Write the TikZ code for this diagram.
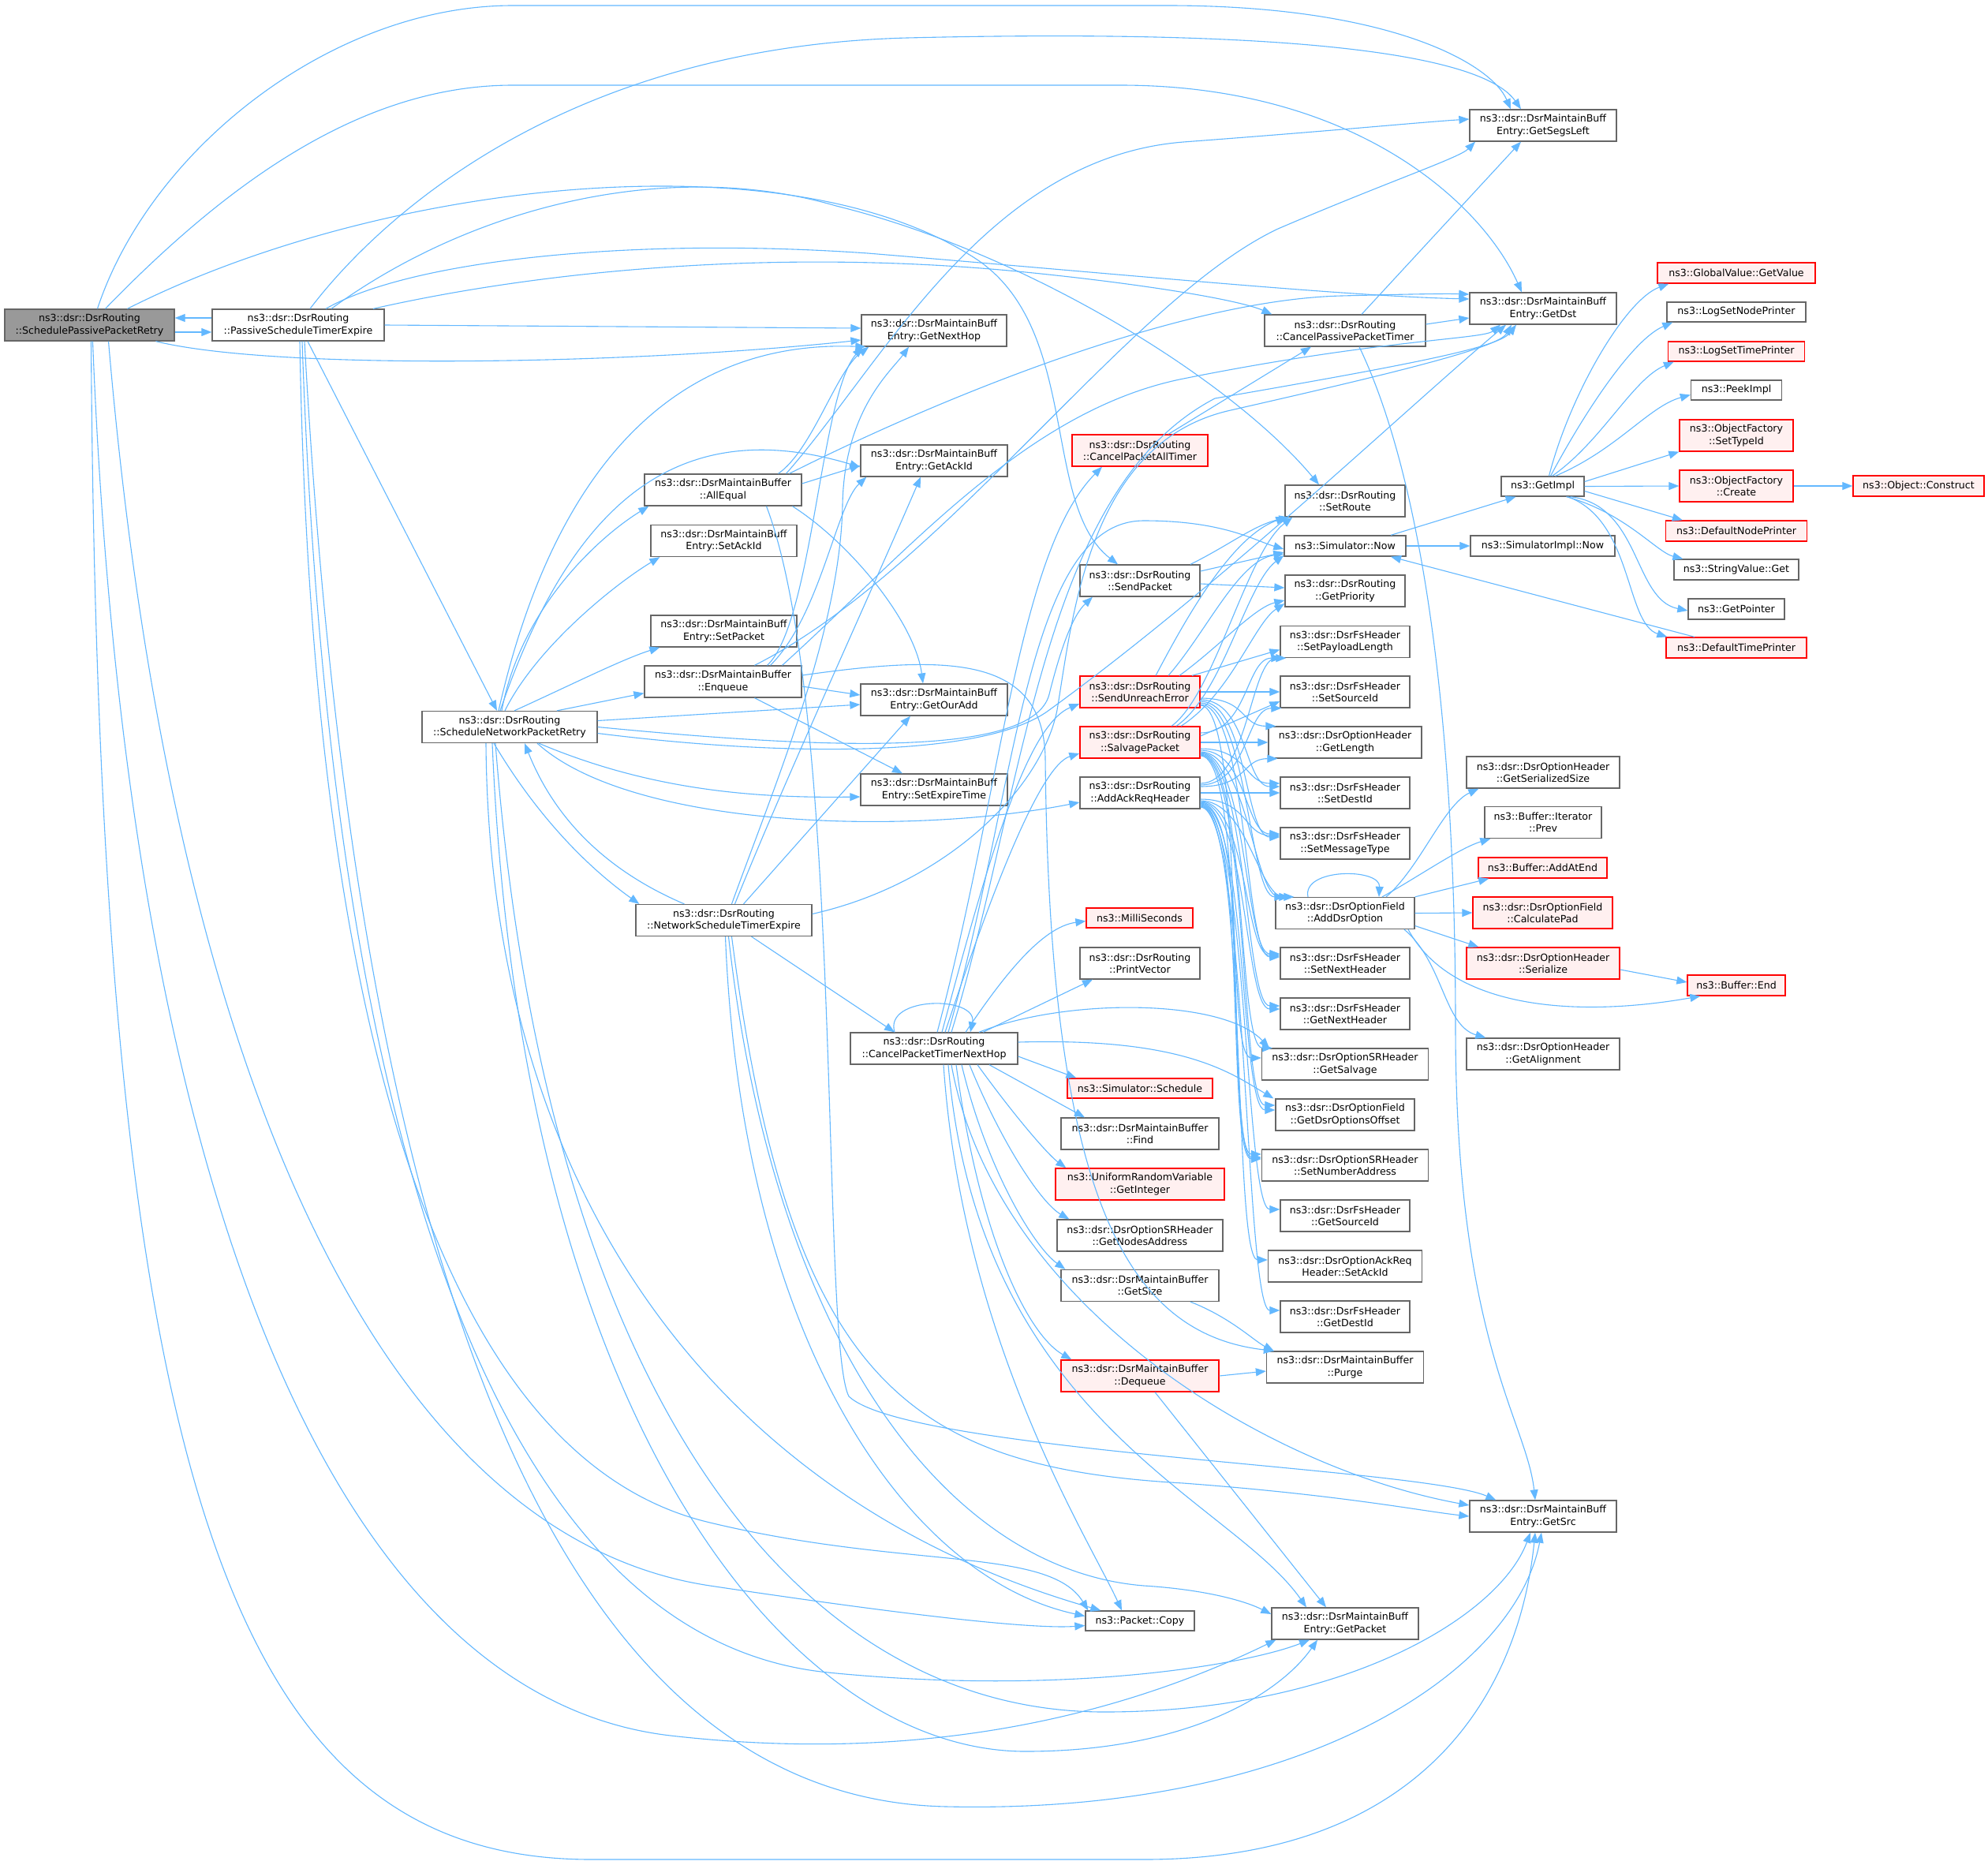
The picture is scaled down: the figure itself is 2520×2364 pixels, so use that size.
\documentclass[tikz,border=0pt]{standalone}
\usepackage{fontspec}
\setmainfont{DejaVu Sans}
\usetikzlibrary{arrows.meta}
\definecolor{edgeblue}{HTML}{63B8FF}
\definecolor{boxgray}{HTML}{666666}
\definecolor{curgray}{HTML}{999999}
\definecolor{redfill}{HTML}{FFF0F0}

\begin{document}
\begin{tikzpicture}[x=1pt,y=-1pt,
  fn/.style={draw=boxgray,line width=1.3pt,fill=white,inner sep=1pt,align=center,
    minimum height=40pt,font=\fontsize{12.6}{15.4}\selectfont},
  fnred/.style={fn,draw=red,fill=redfill},
  fncur/.style={fn,fill=curgray},
  call/.style={draw=edgeblue,line width=1.1pt,-{Triangle[length=13pt,width=10pt]}},
  fan/.style={to path={.. controls +(60,0) and +(-45,0) .. (\tikztotarget)}}]
  \useasboundingbox (0,0) rectangle (2520,2364);
  \fill[white] (0,0) rectangle (2520,2364);

  \node[fncur, minimum width=215pt] (A) at (113.5,412) {ns3::dsr::DsrRouting\\::SchedulePassivePacketRetry};
  \node[fn, minimum width=218pt] (P) at (378,412) {ns3::dsr::DsrRouting\\::PassiveScheduleTimerExpire};
  \node[fn, minimum width=222pt] (N) at (646,921.5) {ns3::dsr::DsrRouting\\::ScheduleNetworkPacketRetry};

  \node[fn, minimum width=199pt] (E) at (916.5,621) {ns3::dsr::DsrMaintainBuffer\\::AllEqual};
  \node[fn, minimum width=185pt] (setack) at (917.5,685.5) {ns3::dsr::DsrMaintainBuff\\Entry::SetAckId};
  \node[fn, minimum width=185pt] (setpkt) at (917.5,800) {ns3::dsr::DsrMaintainBuff\\Entry::SetPacket};
  \node[fn, minimum width=199pt] (Q) at (916.5,864) {ns3::dsr::DsrMaintainBuffer\\::Enqueue};
  \node[fn, minimum width=223pt] (T) at (917.5,1166.5) {ns3::dsr::DsrRouting\\::NetworkScheduleTimerExpire};

  \node[fn, minimum width=184pt] (nexthop) at (1184,419) {ns3::dsr::DsrMaintainBuff\\Entry::GetNextHop};
  \node[fn, minimum width=186pt] (ackid) at (1184,584) {ns3::dsr::DsrMaintainBuff\\Entry::GetAckId};
  \node[fn, minimum width=186pt] (ouradd) at (1184,887) {ns3::dsr::DsrMaintainBuff\\Entry::GetOurAdd};
  \node[fn, minimum width=186pt] (expire) at (1184,1001) {ns3::dsr::DsrMaintainBuff\\Entry::SetExpireTime};
  \node[fn, minimum width=212pt] (X) at (1184,1329) {ns3::dsr::DsrRouting\\::CancelPacketTimerNextHop};

  \node[fnred, minimum width=172pt] (allt) at (1445,571) {ns3::dsr::DsrRouting\\::CancelPacketAllTimer};
  \node[fn, minimum width=152pt] (send) at (1445,736) {ns3::dsr::DsrRouting\\::SendPacket};
  \node[fnred, minimum width=152pt] (unreach) at (1445,877) {ns3::dsr::DsrRouting\\::SendUnreachError};
  \node[fnred, minimum width=152pt] (salvage) at (1445,941) {ns3::dsr::DsrRouting\\::SalvagePacket};
  \node[fn, minimum width=152pt] (ackreq) at (1445,1005) {ns3::dsr::DsrRouting\\::AddAckReqHeader};
  \node[fnred, minimum width=135pt, minimum height=25pt] (milli) at (1444.5,1163.5) {ns3::MilliSeconds};
  \node[fn, minimum width=152pt] (printv) at (1445,1221) {ns3::dsr::DsrRouting\\::PrintVector};
  \node[fnred, minimum width=184pt, minimum height=25pt] (sched) at (1445,1379.5) {ns3::Simulator::Schedule};
  \node[fn, minimum width=200pt] (find) at (1445,1437) {ns3::dsr::DsrMaintainBuffer\\::Find};
  \node[fnred, minimum width=214pt] (getint) at (1445,1501) {ns3::UniformRandomVariable\\::GetInteger};
  \node[fn, minimum width=210pt] (nodesaddr) at (1445,1566) {ns3::dsr::DsrOptionSRHeader\\::GetNodesAddress};
  \node[fn, minimum width=200pt] (getsize) at (1445,1629.5) {ns3::dsr::DsrMaintainBuffer\\::GetSize};
  \node[fnred, minimum width=200pt] (dequeue) at (1445,1744) {ns3::dsr::DsrMaintainBuffer\\::Dequeue};
  \node[fn, minimum width=138pt, minimum height=25pt] (copy) at (1445,2054.5) {ns3::Packet::Copy};

  \node[fn, minimum width=204pt] (cpass) at (1705,419) {ns3::dsr::DsrRouting\\::CancelPassivePacketTimer};
  \node[fn, minimum width=152pt] (setroute) at (1705,635) {ns3::dsr::DsrRouting\\::SetRoute};
  \node[fn, minimum width=154pt, minimum height=26pt] (simnow) at (1705,692) {ns3::Simulator::Now};
  \node[fn, minimum width=152pt] (prio) at (1705,749) {ns3::dsr::DsrRouting\\::GetPriority};
  \node[fn, minimum width=164pt] (paylen) at (1705,813.5) {ns3::dsr::DsrFsHeader\\::SetPayloadLength};
  \node[fn, minimum width=164pt] (setsrcid) at (1705,877) {ns3::dsr::DsrFsHeader\\::SetSourceId};
  \node[fn, minimum width=194pt] (getlen) at (1705,941) {ns3::dsr::DsrOptionHeader\\::GetLength};
  \node[fn, minimum width=164pt] (setdstid) at (1705,1005) {ns3::dsr::DsrFsHeader\\::SetDestId};
  \node[fn, minimum width=164pt] (msgtype) at (1705,1069) {ns3::dsr::DsrFsHeader\\::SetMessageType};
  \node[fn, minimum width=176pt] (addopt) at (1705,1157.5) {ns3::dsr::DsrOptionField\\::AddDsrOption};
  \node[fn, minimum width=164pt] (setnext) at (1705,1221) {ns3::dsr::DsrFsHeader\\::SetNextHeader};
  \node[fn, minimum width=164pt] (getnext) at (1705,1285) {ns3::dsr::DsrFsHeader\\::GetNextHeader};
  \node[fn, minimum width=211pt] (getsalv) at (1705,1349) {ns3::dsr::DsrOptionSRHeader\\::GetSalvage};
  \node[fn, minimum width=176pt] (optoff) at (1705,1413) {ns3::dsr::DsrOptionField\\::GetDsrOptionsOffset};
  \node[fn, minimum width=211pt] (numaddr) at (1705,1477) {ns3::dsr::DsrOptionSRHeader\\::SetNumberAddress};
  \node[fn, minimum width=164pt] (getsrcid) at (1705,1541) {ns3::dsr::DsrFsHeader\\::GetSourceId};
  \node[fn, minimum width=195pt] (reqack) at (1705,1605) {ns3::dsr::DsrOptionAckReq\\Header::SetAckId};
  \node[fn, minimum width=164pt] (getdstid) at (1705,1669) {ns3::dsr::DsrFsHeader\\::GetDestId};
  \node[fn, minimum width=199pt] (purge) at (1705,1733) {ns3::dsr::DsrMaintainBuffer\\::Purge};
  \node[fn, minimum width=186pt] (getpkt) at (1705,2058) {ns3::dsr::DsrMaintainBuff\\Entry::GetPacket};

  \node[fn, minimum width=186pt] (segs) at (1956,159) {ns3::dsr::DsrMaintainBuff\\Entry::GetSegsLeft};
  \node[fn, minimum width=186pt] (dst) at (1956,391) {ns3::dsr::DsrMaintainBuff\\Entry::GetDst};
  \node[fn, minimum width=105pt, minimum height=25pt] (impl) at (1955.5,616.5) {ns3::GetImpl};
  \node[fn, minimum width=183pt, minimum height=26pt] (implnow) at (1955.5,692) {ns3::SimulatorImpl::Now};
  \node[fn, minimum width=194pt] (sersize) at (1956,979) {ns3::dsr::DsrOptionHeader\\::GetSerializedSize};
  \node[fn, minimum width=148pt] (prev) at (1956,1042.5) {ns3::Buffer::Iterator\\::Prev};
  \node[fnred, minimum width=163pt, minimum height=26pt] (atend) at (1955.5,1100) {ns3::Buffer::AddAtEnd};
  \node[fnred, minimum width=177pt] (calcpad) at (1955.5,1157) {ns3::dsr::DsrOptionField\\::CalculatePad};
  \node[fnred, minimum width=194pt] (serial) at (1956,1221) {ns3::dsr::DsrOptionHeader\\::Serialize};
  \node[fn, minimum width=194pt] (align) at (1956,1336) {ns3::dsr::DsrOptionHeader\\::GetAlignment};
  \node[fn, minimum width=186pt] (getsrc) at (1956,1922) {ns3::dsr::DsrMaintainBuff\\Entry::GetSrc};

  \node[fnred, minimum width=200pt, minimum height=26pt] (gvalue) at (2201,346) {ns3::GlobalValue::GetValue};
  \node[fn, minimum width=176pt, minimum height=25pt] (nodeprt) at (2201,395.5) {ns3::LogSetNodePrinter};
  \node[fnred, minimum width=173pt, minimum height=25pt] (timeprt) at (2201,445.5) {ns3::LogSetTimePrinter};
  \node[fn, minimum width=115pt, minimum height=25pt] (peek) at (2201,494.5) {ns3::PeekImpl};
  \node[fnred, minimum width=144pt] (typeid) at (2201,552) {ns3::ObjectFactory\\::SetTypeId};
  \node[fnred, minimum width=144pt] (create) at (2201,616) {ns3::ObjectFactory\\::Create};
  \node[fnred, minimum width=179pt, minimum height=26pt] (defnode) at (2201,673) {ns3::DefaultNodePrinter};
  \node[fn, minimum width=158pt, minimum height=26pt] (strget) at (2201,722) {ns3::StringValue::Get};
  \node[fn, minimum width=122pt, minimum height=26pt] (getptr) at (2201,772) {ns3::GetPointer};
  \node[fnred, minimum width=178pt, minimum height=26pt] (deftime) at (2201,821) {ns3::DefaultTimePrinter};
  \node[fnred, minimum width=124pt, minimum height=26pt] (bufend) at (2201,1249) {ns3::Buffer::End};
  \node[fnred, minimum width=166pt, minimum height=26pt] (construct) at (2432,616) {ns3::Object::Construct};

  \draw[call] ([yshift=-9pt]A.east) -- ([yshift=-9pt]P.west);
  \draw[call] ([yshift=9pt]P.west) -- ([yshift=9pt]A.east);
  \draw[call] ([xshift=10pt]A.north) .. controls (190,190) and (420,7) .. (650,7) -- (1480,7) .. controls (1760,7) and (1890,80) .. ([xshift=-41pt]segs.north);
  \draw[call] ([xshift=20pt]A.north) .. controls (290,230) and (460,108) .. (650,108) -- (1420,108) .. controls (1720,108) and (1880,260) .. ([xshift=-27pt]dst.north);
  \draw[call] ([xshift=48pt]A.north) .. controls (480,230) and (1000,170) .. (1240,330) .. controls (1370,420) and (1320,640) .. ([xshift=-28pt]send.north);
  \draw[call] ([xshift=84pt]A.south) .. controls (350,470) and (800,462) .. ([yshift=-12pt]nexthop.west);
  \draw[call] ([xshift=2pt]A.south) .. controls (125,1900) and (300,2357) .. (750,2357) -- (1450,2357) .. controls (1800,2357) and (1925,2150) .. ([xshift=-10pt]getsrc.south);
  \draw[call] ([xshift=4pt]A.south) .. controls (160,1500) and (420,2150) .. (850,2200) .. controls (1200,2240) and (1450,2160) .. ([xshift=6pt]getpkt.south west);
  \draw[call] ([xshift=24pt]A.south) .. controls (220,1400) and (500,1950) .. (900,2010) .. controls (1100,2040) and (1300,2066) .. ([yshift=-6pt]copy.west);

  \draw[call] (P.east) -- ([yshift=3pt]nexthop.west);
  \draw[call] ([xshift=15pt]P.north) .. controls (470,290) and (700,60) .. (1150,48) .. controls (1650,36) and (1880,70) .. ([xshift=-28pt]segs.north);
  \draw[call] ([xshift=35pt]P.north) .. controls (520,330) and (800,300) .. (1100,321) .. controls (1450,350) and (1700,375) .. ([yshift=12pt]dst.west);
  \draw[call] ([xshift=42pt]P.north) .. controls (600,260) and (850,200) .. (1060,261) .. controls (1300,320) and (1560,480) .. ([xshift=-33pt]setroute.north);
  \draw[call] ([xshift=95pt]P.north) .. controls (700,340) and (1000,315) .. (1300,345) .. controls (1450,360) and (1570,380) .. ([xshift=10pt]cpass.north west);
  \draw[call] ([xshift=12pt]P.south) -- ([xshift=-16pt]N.north);
  \draw[call] ([xshift=2pt]P.south) .. controls (395,1300) and (560,1850) .. (900,1930) .. controls (1150,1990) and (1330,1960) .. ([xshift=4pt]copy.north west);
  \draw[call] ([xshift=5pt]P.south) .. controls (420,1500) and (650,2080) .. (1050,2120) .. controls (1350,2150) and (1580,2110) .. ([xshift=-45pt]getpkt.south);
  \draw[call] ([xshift=8pt]P.south) .. controls (450,1600) and (700,2280) .. (1200,2290) .. controls (1650,2300) and (1920,2120) .. ([xshift=-2pt]getsrc.south);

  \draw[call] ([xshift=-10pt]N.north) .. controls (660,770) and (760,680) .. ([xshift=6pt]E.south west);
  \draw[call] ([xshift=-6pt]N.north) .. controls (680,820) and (780,740) .. ([xshift=12pt]setack.south west);
  \draw[call] ([xshift=6pt]N.north) .. controls (720,870) and (790,835) .. ([xshift=12pt]setpkt.south west);
  \draw[call] ([xshift=60pt]N.north) -- ([yshift=6pt]Q.south west);
  \draw[call] ([xshift=-14pt]N.north) .. controls (700,600) and (850,430) .. ([xshift=6pt]nexthop.south west);
  \draw[call] ([xshift=-12pt]N.north) .. controls (720,650) and (850,520) .. ([yshift=-8pt]ackid.west);
  \draw[call] ([yshift=8pt]N.east) -- ([yshift=-6pt]ouradd.west);
  \draw[call] ([yshift=-8pt]N.east) .. controls (1000,960) and (1250,960) .. (1330,900) .. controls (1550,740) and (1780,520) .. ([xshift=-47pt]dst.south);
  \draw[call] (N.east) .. controls (1050,950) and (1310,960) .. (1330,880) .. controls (1345,820) and (1360,780) .. ([xshift=-60pt]send.south);
  \draw[call] ([xshift=37pt]N.south) .. controls (820,1000) and (950,1012) .. ([yshift=-9pt]expire.west);
  \draw[call] ([xshift=35pt]N.south) .. controls (800,1050) and (1150,1060) .. ([yshift=-12pt]ackreq.west);
  \draw[call] ([xshift=-20pt]N.south) .. controls (690,1050) and (760,1110) .. ([xshift=5pt]T.north west);
  \draw[call] ([xshift=-50pt]T.north) .. controls (760,1100) and (700,1030) .. ([xshift=19pt]N.south);
  \draw[call] ([xshift=-30pt]N.south) .. controls (620,1500) and (900,1900) .. ([xshift=20pt]copy.north west);
  \draw[call] ([xshift=-22pt]N.south) .. controls (660,1800) and (1000,2220) .. (1300,2220) .. controls (1500,2220) and (1620,2150) .. ([xshift=-35pt]getpkt.south);
  \draw[call] ([xshift=-18pt]N.south) .. controls (690,1750) and (1000,2170) .. (1400,2170) .. controls (1700,2170) and (1900,2050) .. ([xshift=-16pt]getsrc.south);

  \draw[call] ([xshift=10pt]T.north) .. controls (980,1000) and (1065,800) .. (1068,640) .. controls (1070,520) and (1130,470) .. ([xshift=-32pt]nexthop.south);
  \draw[call] ([xshift=14pt]T.north) .. controls (990,1000) and (1100,760) .. ([xshift=-17pt]ackid.south);
  \draw[call] ([xshift=25pt]T.north) -- ([xshift=-30pt]ouradd.south);
  \draw[call] ([yshift=8pt]T.east) .. controls (1200,1120) and (1320,1000) .. (1340,900) .. controls (1360,780) and (1380,560) .. (1560,520) .. controls (1780,470) and (1900,440) .. ([xshift=-40pt]dst.south);
  \draw[call] ([xshift=35pt]T.south) -- ([xshift=-50pt]X.north);
  \draw[call] ([xshift=2pt]T.south) .. controls (940,1700) and (1150,2000) .. ([yshift=6pt]copy.west);
  \draw[call] ([xshift=6pt]T.south) .. controls (980,1700) and (1200,1990) .. (1450,2010) .. controls (1530,2015) and (1580,2030) .. ([yshift=12pt]getpkt.west);
  \draw[call] ([xshift=10pt]T.south) .. controls (1000,1750) and (1150,1860) .. (1500,1880) .. controls (1700,1895) and (1800,1915) .. (getsrc.west);

  \draw[call] ([xshift=-50pt]X.north) .. controls (1120,1262) and (1240,1262) .. ([xshift=46pt]X.north);
  \draw[call] ([xshift=40pt]X.north) .. controls (1270,1240) and (1320,1175) .. ([yshift=-4pt]milli.west);
  \draw[call] ([xshift=62pt]X.north) -- ([xshift=-60pt]printv.south);
  \draw[call] ([xshift=10pt]X.north) .. controls (1250,1100) and (1300,920) .. ([yshift=-15pt]unreach.west);
  \draw[call] ([xshift=14pt]X.north) .. controls (1260,1120) and (1320,970) .. ([yshift=-14pt]salvage.west);
  \draw[call] ([xshift=4pt]X.north) .. controls (1270,1000) and (1290,700) .. ([xshift=-48pt]allt.south);
  \draw[call] ([xshift=18pt]X.north) .. controls (1290,1000) and (1300,660) .. (1450,660) .. controls (1550,660) and (1590,685) .. ([yshift=-4pt]simnow.west);
  \draw[call] ([xshift=22pt]X.north) .. controls (1300,1000) and (1320,620) .. (1540,505) .. controls (1800,460) and (1900,440) .. ([xshift=-34pt]dst.south);
  \draw[call] ([yshift=-10pt]X.east) -- ([xshift=12pt]sched.north west);
  \draw[call] ([xshift=70pt]X.south) -- ([xshift=-70pt]find.north);
  \draw[call] ([xshift=55pt]X.south) .. controls (1290,1420) and (1330,1465) .. ([xshift=14pt]getint.north west);
  \draw[call] ([xshift=45pt]X.south) .. controls (1270,1450) and (1320,1525) .. ([xshift=16pt]nodesaddr.north west);
  \draw[call] ([xshift=35pt]X.south) .. controls (1250,1480) and (1310,1580) .. ([xshift=6pt]getsize.north west);
  \draw[call] ([xshift=28pt]X.south) .. controls (1240,1560) and (1300,1690) .. ([xshift=14pt]dequeue.north west);
  \draw[call] ([xshift=12pt]X.south) .. controls (1220,1700) and (1380,1950) .. ([xshift=-23pt]copy.north);
  \draw[call] ([xshift=18pt]X.south) .. controls (1240,1800) and (1560,1900) .. ([xshift=-49pt]getpkt.north);
  \draw[call] ([xshift=22pt]X.south) .. controls (1260,1650) and (1600,1860) .. ([yshift=14pt]getsrc.west);
  \draw[call] ([xshift=57pt]X.north) .. controls (1350,1265) and (1550,1265) .. ([xshift=10pt]getsalv.north west);
  \draw[call] ([yshift=8pt]X.east) .. controls (1500,1315) and (1560,1360) .. ([xshift=-2pt]optoff.north west);

  \draw[call] ([yshift=-6pt]Q.east) -- ([yshift=6pt]ouradd.west);
  \draw[call] ([xshift=40pt]Q.south) -- ([xshift=-40pt]expire.north);
  \draw[call] ([xshift=56pt]Q.north) .. controls (1030,790) and (1040,500) .. ([xshift=2pt]nexthop.south west);
  \draw[call] ([xshift=60pt]Q.north) .. controls (1040,780) and (1060,640) .. ([xshift=8pt]ackid.south west);
  \draw[call] ([xshift=40pt]Q.north) .. controls (1200,720) and (1430,380) .. (1620,290) .. controls (1760,230) and (1850,200) .. ([xshift=-86pt]segs.south);
  \draw[call] ([xshift=75pt]Q.north) .. controls (1150,700) and (1300,520) .. (1500,480) .. controls (1750,430) and (1880,430) .. ([xshift=-54pt]dst.south);
  \draw[call] ([yshift=8pt]Q.east) .. controls (1200,830) and (1322,830) .. (1325,960) .. controls (1330,1500) and (1420,1690) .. ([xshift=10pt]purge.north west);

  \draw[call] ([yshift=8pt]E.east) -- ([yshift=-6pt]ackid.west);
  \draw[call] ([xshift=70pt]E.north) .. controls (1030,570) and (1060,470) .. ([xshift=10pt]nexthop.south west);
  \draw[call] ([xshift=88pt]E.south) .. controls (1080,690) and (1160,790) .. ([xshift=-14pt]ouradd.north);
  \draw[call] ([xshift=80pt]E.north) .. controls (1120,460) and (1250,200) .. (1500,180) .. controls (1700,165) and (1800,155) .. ([yshift=8pt]segs.west);
  \draw[call] ([xshift=84pt]E.north) .. controls (1200,500) and (1500,380) .. (1700,375) .. controls (1780,373) and (1830,372) .. ([yshift=18pt]dst.west);
  \draw[call] ([xshift=55pt]E.south) .. controls (1070,900) and (1040,1700) .. (1076,1770) .. controls (1150,1840) and (1800,1860) .. ([xshift=34pt]getsrc.north west);

  \draw[call] ([xshift=36pt]allt.north) -- ([xshift=-43pt]cpass.south);
  \draw[call] ([xshift=21pt]cpass.north) -- ([xshift=-28pt]segs.south);
  \draw[call] ([yshift=8pt]cpass.east) -- ([yshift=-12pt]dst.west);
  \draw[call] ([xshift=18pt]cpass.south) .. controls (1800,600) and (1845,900) .. (1845,1300) .. controls (1845,1700) and (1935,1800) .. ([xshift=-10pt]getsrc.north);

  \draw[call] ([xshift=64pt]send.north) .. controls (1560,690) and (1590,665) .. ([xshift=6pt]setroute.south west);
  \draw[call] ([yshift=12pt]send.east) -- ([yshift=-8pt]simnow.west);
  \draw[call] ([yshift=-4pt]send.east) -- ([yshift=4pt]prio.west);

  \draw[call] ([xshift=20pt]unreach.north) .. controls (1500,790) and (1560,680) .. ([xshift=2pt]setroute.south west);
  \draw[call] ([xshift=36pt]unreach.north) .. controls (1530,800) and (1570,710) .. ([yshift=-10pt]simnow.west);
  \draw[call] ([xshift=50pt]unreach.north) .. controls (1545,820) and (1590,770) .. ([yshift=-12pt]prio.west);
  \draw[call] ([xshift=66pt]unreach.north) -- ([yshift=-10pt]paylen.west);
  \draw[call] (unreach.east) -- (setsrcid.west);
  \draw[call] ([yshift=-8pt]unreach.east) to[fan] ([xshift=10pt]getlen.north west);
  \draw[call] ([yshift=-10pt]unreach.east) to[fan] ([yshift=8pt]setdstid.west);
  \draw[call] ([yshift=-12pt]unreach.east) to[fan] ([yshift=8pt]msgtype.west);
  \draw[call] ([yshift=-14pt]unreach.east) to[fan] ([xshift=12pt]addopt.north west);
  \draw[call] ([yshift=-16pt]unreach.east) to[fan] ([yshift=8pt]setnext.west);
  \draw[call] ([yshift=-17pt]unreach.east) to[fan] ([yshift=10pt]numaddr.west);

  \draw[call] ([xshift=40pt]salvage.north) .. controls (1540,880) and (1580,700) .. ([xshift=10pt]setroute.south west);
  \draw[call] ([xshift=46pt]salvage.north) .. controls (1550,880) and (1580,740) .. ([yshift=-12pt]simnow.west);
  \draw[call] ([xshift=52pt]salvage.north) .. controls (1560,880) and (1590,790) .. ([yshift=-16pt]prio.west);
  \draw[call] ([yshift=12pt]salvage.east) to[fan] ([xshift=2pt]paylen.south west);
  \draw[call] ([yshift=8pt]salvage.east) -- ([yshift=-12pt]setsrcid.west);
  \draw[call] (salvage.east) -- (getlen.west);
  \draw[call] ([yshift=-8pt]salvage.east) to[fan] ([yshift=12pt]setdstid.west);
  \draw[call] ([yshift=-10pt]salvage.east) to[fan] ([yshift=12pt]msgtype.west);
  \draw[call] ([yshift=-12pt]salvage.east) to[fan] ([xshift=18pt]addopt.north west);
  \draw[call] ([yshift=-13pt]salvage.east) to[fan] ([yshift=12pt]setnext.west);
  \draw[call] ([yshift=-14pt]salvage.east) to[fan] ([yshift=10pt]getnext.west);
  \draw[call] ([yshift=-15pt]salvage.east) to[fan] ([xshift=14pt]getsalv.north west);
  \draw[call] ([yshift=-16pt]salvage.east) to[fan] ([yshift=12pt]optoff.west);
  \draw[call] ([yshift=-17pt]salvage.east) to[fan] ([yshift=14pt]numaddr.west);

  \draw[call] ([yshift=12pt]ackreq.east) to[fan] ([xshift=8pt]paylen.south west);
  \draw[call] ([yshift=10pt]ackreq.east) to[fan] ([xshift=2pt]setsrcid.south west);
  \draw[call] ([yshift=8pt]ackreq.east) to[fan] ([xshift=12pt]getlen.south west);
  \draw[call] (ackreq.east) -- (setdstid.west);
  \draw[call] ([yshift=-8pt]ackreq.east) to[fan] ([yshift=10pt]msgtype.west);
  \draw[call] ([yshift=-10pt]ackreq.east) to[fan] ([xshift=24pt]addopt.north west);
  \draw[call] ([yshift=-11pt]ackreq.east) to[fan] ([yshift=10pt]setnext.west);
  \draw[call] ([yshift=-12pt]ackreq.east) to[fan] ([yshift=6pt]getnext.west);
  \draw[call] ([yshift=-13pt]ackreq.east) to[fan] ([yshift=8pt]getsalv.west);
  \draw[call] ([yshift=-14pt]ackreq.east) to[fan] ([yshift=6pt]optoff.west);
  \draw[call] ([yshift=-15pt]ackreq.east) to[fan] ([yshift=8pt]numaddr.west);
  \draw[call] ([yshift=-16pt]ackreq.east) to[fan] ([yshift=8pt]getsrcid.west);
  \draw[call] ([yshift=-17pt]ackreq.east) to[fan] ([yshift=8pt]reqack.west);
  \draw[call] ([yshift=-18pt]ackreq.east) to[fan] ([yshift=8pt]getdstid.west);

  \draw[call] ([xshift=58pt]simnow.north) -- ([xshift=-34pt]impl.south);
  \draw[call] (simnow.east) -- (implnow.west);
  \draw[call] ([xshift=-53pt]deftime.north) -- ([xshift=58pt]simnow.south);
  \draw[call] ([xshift=8pt]impl.north) .. controls (1990,500) and (2060,380) .. ([xshift=15pt]gvalue.south west);
  \draw[call] ([xshift=10pt]impl.north) .. controls (2010,520) and (2070,430) .. ([xshift=8pt]nodeprt.south west);
  \draw[call] ([xshift=12pt]impl.north) .. controls (2030,560) and (2070,480) .. ([xshift=8pt]timeprt.south west);
  \draw[call] ([xshift=16pt]impl.north) .. controls (2050,570) and (2090,515) .. ([yshift=-6pt]peek.west);
  \draw[call] ([yshift=6pt]impl.east) -- (typeid.south west);
  \draw[call] (impl.east) -- (create.west);
  \draw[call] ([yshift=-6pt]impl.east) -- ([xshift=22pt]defnode.north west);
  \draw[call] ([xshift=30pt]impl.south) .. controls (2060,650) and (2100,700) .. ([xshift=12pt]strget.north west);
  \draw[call] ([xshift=35pt]impl.south) .. controls (2080,640) and (2070,760) .. ([yshift=-2pt]getptr.west);
  \draw[call] ([xshift=32pt]impl.south) .. controls (2070,660) and (2060,790) .. ([xshift=2pt]deftime.north west);
  \draw[call] (create.east) -- (construct.west);

  \draw[call] ([xshift=-47pt]addopt.north) .. controls (1650,1100) and (1750,1100) .. ([xshift=43pt]addopt.north);
  \draw[call] ([xshift=52pt]addopt.north) .. controls (1800,1100) and (1830,1020) .. ([xshift=16pt]sersize.south west);
  \draw[call] ([xshift=47pt]addopt.north) .. controls (1800,1110) and (1850,1075) .. ([xshift=8pt]prev.south west);
  \draw[call] (addopt.north east) -- ([xshift=14pt]atend.south west);
  \draw[call] (addopt.east) -- (calcpad.west);
  \draw[call] ([yshift=-16pt]addopt.east) -- ([xshift=16pt]serial.north west);
  \draw[call] ([xshift=80pt]addopt.south) .. controls (1840,1280) and (2000,1290) .. ([xshift=17pt]bufend.south west);
  \draw[call] ([xshift=75pt]addopt.south) .. controls (1830,1220) and (1830,1300) .. ([xshift=25pt]align.north west);
  \draw[call] ([yshift=-8pt]serial.east) -- ([yshift=4pt]bufend.west);

  \draw[call] (dequeue.east) -- ([yshift=-5pt]purge.west);
  \draw[call] ([xshift=19pt]dequeue.south) -- ([xshift=-24pt]getpkt.north);
  \draw[call] ([xshift=64pt]getsize.south) .. controls (1560,1670) and (1590,1700) .. ([xshift=10pt]purge.north west);

\end{tikzpicture}
\end{document}
